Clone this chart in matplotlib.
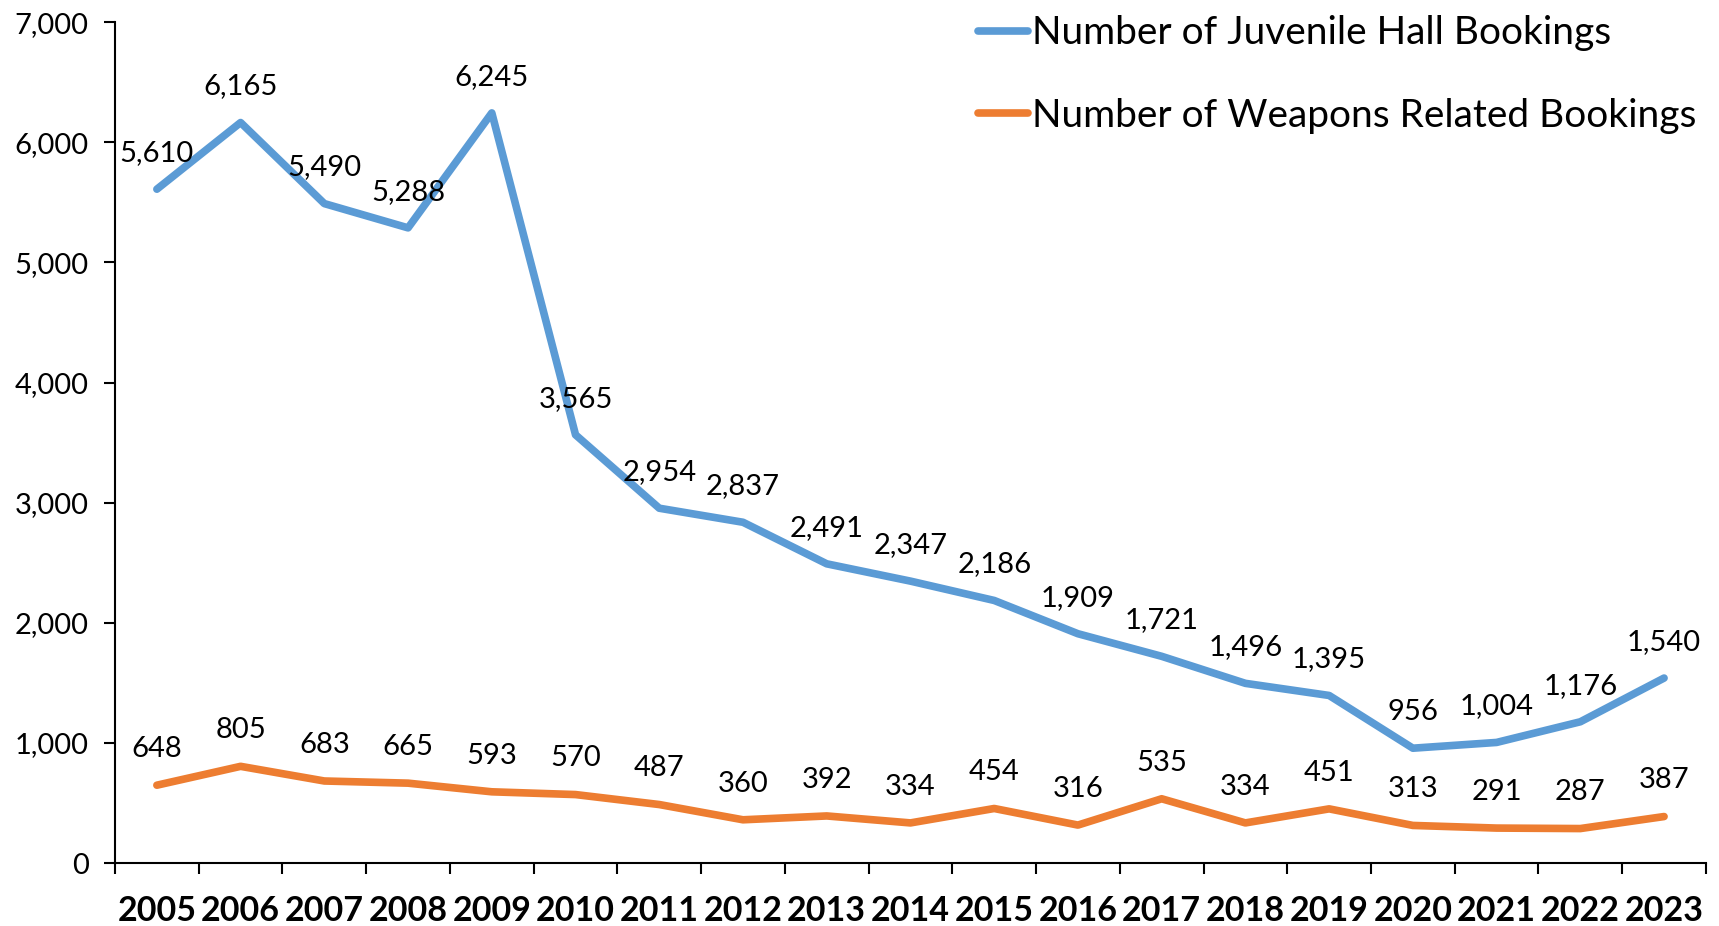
import numpy as np
import matplotlib.pyplot as plt
from matplotlib.ticker import FuncFormatter, FixedLocator

plt.rcParams['font.family'] = ['Lato', 'DejaVu Sans']

# years and the two series
years = ['2005', '2006', '2007', '2008', '2009', '2010', '2011', '2012', '2013', '2014',
         '2015', '2016', '2017', '2018', '2019', '2020', '2021', '2022', '2023']
hall_bookings = [5610, 6165, 5490, 5288, 6245, 3565, 2954, 2837, 2491, 2347,
                 2186, 1909, 1721, 1496, 1395, 956, 1004, 1176, 1540]
weapons_bookings = [648, 805, 683, 665, 593, 570, 487, 360, 392, 334,
                    454, 316, 535, 334, 451, 313, 291, 287, 387]

blue = '#5B9BD5'
orange = '#ED7D31'

fig = plt.figure(figsize=(17.19, 9.26), dpi=100)
ax = fig.add_axes([0.0669, 0.068, 0.9255, 0.908])

x = np.arange(len(years))
ax.plot(x, hall_bookings, color=blue, lw=5.5, solid_capstyle='round',
        solid_joinstyle='round', label='Number of Juvenile Hall Bookings')
ax.plot(x, weapons_bookings, color=orange, lw=5.5, solid_capstyle='round',
        solid_joinstyle='round', label='Number of Weapons Related Bookings')

# data labels above each point
for series in (hall_bookings, weapons_bookings):
    for xi, v in zip(x, series):
        ax.annotate(f'{v:,}', (xi, v), xytext=(0, 26), textcoords='offset points',
                    ha='center', va='center', fontsize=21)

ax.set_xlim(-0.5, len(years) - 0.5)
ax.set_ylim(0, 7000)
ax.set_yticks(np.arange(0, 7001, 1000))
ax.yaxis.set_major_formatter(FuncFormatter(lambda v, p: f'{int(v):,}'))

# ticks at category boundaries, labels at centers
ax.xaxis.set_major_locator(FixedLocator(np.arange(-0.5, len(years), 1.0)))
ax.xaxis.set_minor_locator(FixedLocator(x))
ax.set_xticklabels([])
ax.set_xticklabels(years, minor=True, fontsize=24.5, fontweight='bold')
ax.tick_params(axis='x', which='major', length=8, width=1.5, direction='out')
ax.tick_params(axis='x', which='minor', length=0, pad=23)
ax.tick_params(axis='y', length=8, width=1.5, direction='out', labelsize=21, pad=11)

for s in ('top', 'right'):
    ax.spines[s].set_visible(False)
for s in ('left', 'bottom'):
    ax.spines[s].set_linewidth(1.5)

ax.legend(loc='upper right', bbox_to_anchor=(1.016, 1.05), frameon=False, fontsize=28,
          handlelength=1.3, handletextpad=0.1, labelspacing=1.2)

fig.savefig('out.png', dpi=100)
